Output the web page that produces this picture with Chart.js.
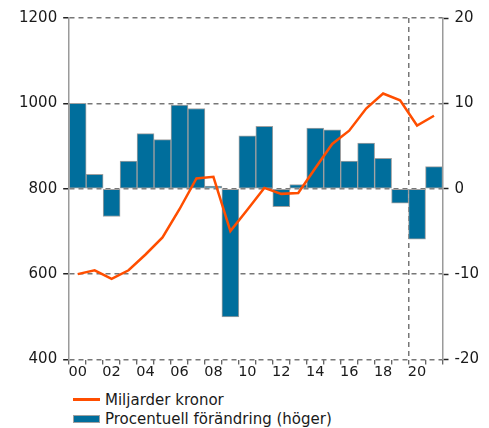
<!DOCTYPE html>
<html>
<head>
<meta charset="utf-8">
<script src="https://cdn.jsdelivr.net/npm/chart.js@4/dist/chart.umd.min.js"></script>
<style>
  body { margin: 0; background: #fff; font-family: 'DejaVu Sans', Verdana, sans-serif; }
  #wrap { position: relative; width: 489px; height: 385px; }
  #legend { position: absolute; left: 73px; top: 390px; font-size: 15px; color: #1a1a1a; }
  .item { display: flex; align-items: center; height: 19px; }
  .swatch { width: 27px; margin-right: 5px; box-sizing: border-box; }
  .line { height: 3px; background: #ff4e00; }
  .bar { height: 8px; background: #006e9c; border: 1px solid #a0a0a0; }
</style>
</head>
<body>
<div id="wrap"><canvas id="myChart"></canvas></div>
<div id="legend">
  <div class="item"><div class="swatch line"></div>Miljarder kronor</div>
  <div class="item"><div class="swatch bar"></div>Procentuell förändring (höger)</div>
</div>
<script>
let years = ['00','01','02','03','04','05','06','07','08','09','10','11','12','13','14','15','16','17','18','19','20','21'];
let miljarder = [600, 609, 589, 609, 646, 686, 752, 824, 828, 701, 751, 802, 788, 790, 848, 905, 936, 988, 1023, 1007, 948, 971];
let procent = [10.0, 1.7, -3.25, 3.25, 6.45, 5.75, 9.8, 9.4, 0.3, -15.0, 6.2, 7.3, -2.1, 0.5, 7.1, 6.9, 3.25, 5.35, 3.55, -1.7, -5.9, 2.6];
let leftTicks = [400, 600, 800, 1000, 1200];
let rightTicks = [-20, -10, 0, 10, 20];
let prognosIndex = 20;

let txt = '#1a1a1a';
let gridGray = '#777777';
let axisGray = '#9a9a9a';

let ctx = document.getElementById("myChart").getContext('2d');

let chart = new Chart(ctx, {
    type: 'bar',
    data: {
        labels: years,
        datasets: [
          {
            type: 'line',
            label: 'Miljarder kronor',
            data: miljarder,
            yAxisID: 'y',
            borderColor: '#ff4e00',
            borderWidth: 2.5,
            pointRadius: 0,
            tension: 0,
            order: 0
          },
          {
            type: 'bar',
            label: 'Procentuell förändring (höger)',
            data: procent,
            yAxisID: 'y1',
            backgroundColor: '#006e9c',
            borderColor: '#a0a0a0',
            borderWidth: 1,
            borderSkipped: false,
            barPercentage: 1,
            categoryPercentage: 1,
            order: 1
          }
        ]
    },
    options: {
        responsive: true,
        maintainAspectRatio: false,
        animation: false,
        layout: { padding: { left: 13, right: 4, top: 18, bottom: 6 } },
        plugins: {
            legend: { display: false },
            tooltip: { enabled: false }
        },
        scales: {
            x: {
                grid: {
                    offset: true,
                    color: c => c.index === prognosIndex ? gridGray : 'rgba(0,0,0,0)',
                    lineWidth: 1.5,
                    tickColor: '#333',
                    tickWidth: 1,
                    tickLength: 5
                },
                border: { display: false, dash: [5, 4] },
                ticks: {
                    autoSkip: false,
                    maxRotation: 0,
                    padding: 0,
                    color: txt,
                    font: { family: 'DejaVu Sans', size: 14.5, lineHeight: 1 },
                    callback: function (v, i) { return i % 2 === 0 ? this.getLabelForValue(v) : ''; }
                }
            },
            y: {
                position: 'left',
                min: 400,
                max: 1200,
                afterBuildTicks: s => { s.ticks = leftTicks.map(v => ({ value: v })); },
                grid: {
                    color: gridGray,
                    lineWidth: 1.5,
                    tickColor: '#222',
                    tickWidth: 1.5,
                    tickLength: 6
                },
                border: { display: true, color: axisGray, width: 1.5, dash: [5, 4], z: 1 },
                ticks: {
                    padding: 6,
                    color: txt,
                    font: { family: 'DejaVu Sans', size: 15 },
                    callback: v => String(v)
                }
            },
            y1: {
                position: 'right',
                min: -20,
                max: 20,
                afterBuildTicks: s => { s.ticks = rightTicks.map(v => ({ value: v })); },
                grid: {
                    drawOnChartArea: false,
                    tickColor: '#222',
                    tickWidth: 1.5,
                    tickLength: 6
                },
                border: { display: true, color: axisGray, width: 1.5, z: 1 },
                ticks: {
                    padding: 6,
                    color: txt,
                    font: { family: 'DejaVu Sans', size: 15 },
                    callback: v => String(v)
                }
            }
        }
    }
});
</script>
</body>
</html>
